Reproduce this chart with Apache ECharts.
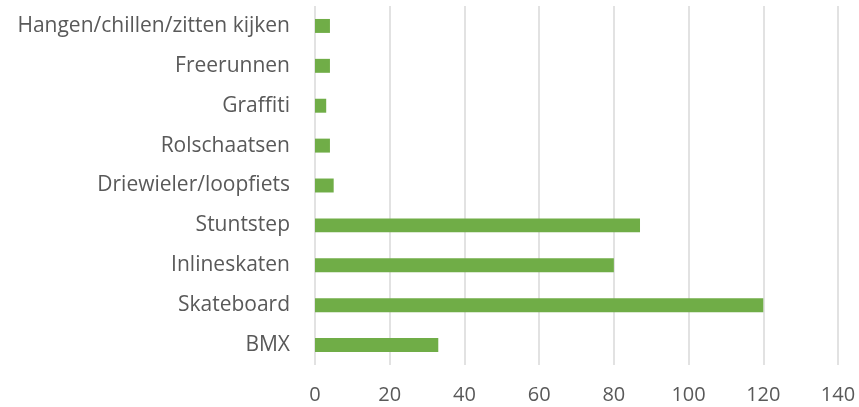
<!DOCTYPE html>
<html>
<head>
<meta charset="utf-8">
<script src="https://cdn.jsdelivr.net/npm/echarts@6/dist/echarts.min.js"></script>
<style>
  html, body { margin: 0; padding: 0; background: #ffffff; }
  #chart { width: 859px; height: 407px; }
</style>
</head>
<body>
<div id="chart"></div>
<script>
// categories from bottom to top, as in the picture
const categories = ['BMX', 'Skateboard', 'Inlineskaten', 'Stuntstep', 'Driewieler/loopfiets', 'Rolschaatsen', 'Graffiti', 'Freerunnen', 'Hangen/chillen/zitten kijken']
const values = [33, 120, 80, 87, 5, 4, 3, 4, 4]
const xTicks = [0, 20, 40, 60, 80, 100, 120, 140]

const chart = echarts.init(document.getElementById('chart'))

const option = {
  backgroundColor: '#ffffff',
  animation: false,
  grid: {
    left: 315,
    right: 21,
    top: 6,
    bottom: 42
  },
  xAxis: {
    type: 'value',
    min: xTicks[0],
    max: xTicks[xTicks.length - 1],
    interval: 20,
    axisLine: { show: false },
    axisTick: { show: false },
    axisLabel: {
      color: '#595959',
      fontSize: 20,
      fontFamily: 'Open Sans',
      margin: 20
    },
    splitLine: {
      lineStyle: { color: '#d9d9d9', width: 1.5 }
    }
  },
  yAxis: {
    type: 'category',
    data: categories,
    axisLine: { show: false },
    axisTick: { show: false },
    axisLabel: {
      color: '#595959',
      fontSize: 21,
      fontFamily: 'Open Sans',
      margin: 25
    }
  },
  series: [
    {
      type: 'bar',
      data: values,
      barWidth: '35%',
      itemStyle: { color: '#70ad47' }
    }
  ]
}

chart.setOption(option)
</script>
</body>
</html>
